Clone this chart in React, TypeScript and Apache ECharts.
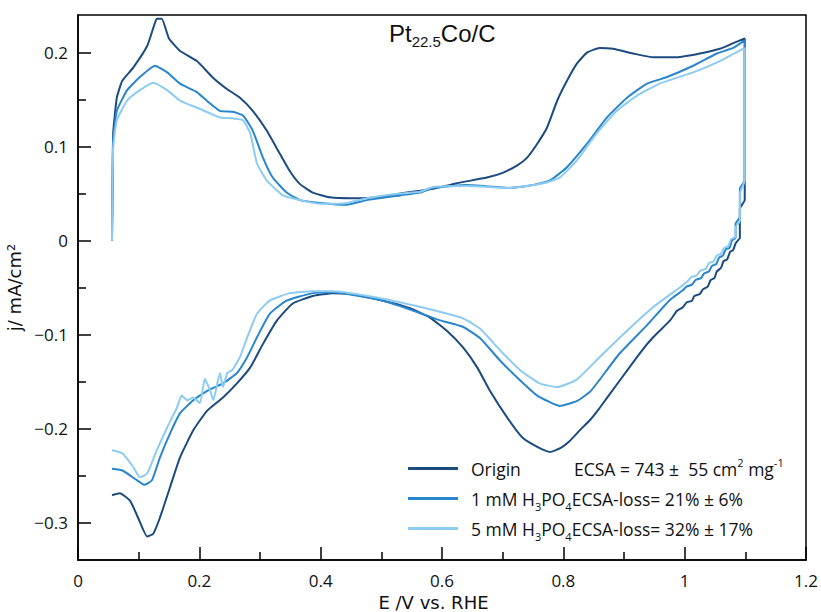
import React, { useEffect, useRef } from "react";
import * as echarts from "echarts";

// ---- data: [E (V vs RHE), j (mA/cm²)] ----
const originAnodic: number[][] = [
  [0.056, 0], [0.057, 0.06], [0.058, 0.114], [0.064, 0.152], [0.073, 0.170], [0.091, 0.184],
  [0.114, 0.207], [0.124, 0.226], [0.130, 0.236], [0.138, 0.236], [0.150, 0.215], [0.168, 0.202],
  [0.196, 0.191], [0.223, 0.173], [0.246, 0.161], [0.267, 0.152], [0.288, 0.138], [0.311, 0.117],
  [0.333, 0.092], [0.349, 0.074], [0.366, 0.060], [0.387, 0.051], [0.415, 0.046], [0.453, 0.045],
  [0.493, 0.046], [0.531, 0.050], [0.564, 0.053], [0.585, 0.055], [0.625, 0.061], [0.674, 0.067],
  [0.700, 0.072], [0.724, 0.080], [0.740, 0.088], [0.757, 0.103], [0.773, 0.120], [0.790, 0.149],
  [0.806, 0.170], [0.822, 0.188], [0.839, 0.200], [0.860, 0.205], [0.882, 0.204], [0.915, 0.199],
  [0.948, 0.195], [0.987, 0.195], [1.025, 0.199], [1.058, 0.204], [1.080, 0.210], [1.099, 0.215],
];
const originCathodic: number[][] = [
  [1.099, 0.043], [1.091, 0.034], [1.091, 0.003], [1.084, -0.003], [1.080, -0.010], [1.075, -0.012],
  [1.070, -0.020], [1.064, -0.022], [1.060, -0.029], [1.053, -0.033], [1.049, -0.040], [1.043, -0.042],
  [1.038, -0.049], [1.030, -0.052], [1.025, -0.057], [1.016, -0.059], [1.012, -0.064], [1.003, -0.066],
  [0.997, -0.071], [0.987, -0.075], [0.976, -0.085], [0.948, -0.103], [0.926, -0.120], [0.893, -0.149],
  [0.860, -0.178], [0.844, -0.191], [0.827, -0.202], [0.811, -0.213], [0.795, -0.221], [0.778, -0.225],
  [0.761, -0.221], [0.733, -0.210], [0.707, -0.188], [0.679, -0.160], [0.658, -0.135], [0.635, -0.114],
  [0.608, -0.096], [0.580, -0.082], [0.547, -0.072], [0.503, -0.064], [0.448, -0.057], [0.420, -0.056],
  [0.387, -0.059], [0.354, -0.067], [0.328, -0.085], [0.305, -0.110], [0.284, -0.135], [0.262, -0.152],
  [0.239, -0.167], [0.213, -0.181], [0.190, -0.202], [0.168, -0.231], [0.152, -0.262], [0.135, -0.295],
  [0.124, -0.312], [0.114, -0.315], [0.099, -0.295], [0.086, -0.277], [0.069, -0.269], [0.056, -0.271],
];

const mM1Anodic: number[][] = [
  [0.056, 0], [0.057, 0.06], [0.058, 0.106], [0.064, 0.138], [0.081, 0.160], [0.102, 0.174],
  [0.127, 0.186], [0.147, 0.179], [0.168, 0.167], [0.196, 0.158], [0.212, 0.149], [0.234, 0.138],
  [0.255, 0.137], [0.272, 0.133], [0.288, 0.117], [0.305, 0.088], [0.321, 0.067], [0.344, 0.051],
  [0.366, 0.043], [0.399, 0.040], [0.443, 0.038], [0.476, 0.043], [0.531, 0.048], [0.564, 0.051],
  [0.585, 0.056], [0.641, 0.059], [0.712, 0.056], [0.750, 0.059], [0.778, 0.064], [0.806, 0.078],
  [0.839, 0.103], [0.872, 0.131], [0.905, 0.152], [0.938, 0.167], [0.971, 0.174], [1.014, 0.186],
  [1.053, 0.199], [1.080, 0.205], [1.099, 0.213],
];
const mM1Cathodic: number[][] = [
  [1.099, 0.064], [1.091, 0.055], [1.091, 0.025], [1.084, 0.018], [1.084, 0.003], [1.078, 0.000],
  [1.074, -0.008], [1.068, -0.009], [1.063, -0.016], [1.057, -0.018], [1.052, -0.025], [1.045, -0.027],
  [1.040, -0.033], [1.032, -0.035], [1.027, -0.040], [1.018, -0.042], [1.012, -0.047], [1.003, -0.049],
  [0.997, -0.053], [0.976, -0.063], [0.938, -0.090], [0.893, -0.120], [0.860, -0.148], [0.844, -0.161],
  [0.822, -0.171], [0.794, -0.176], [0.757, -0.165], [0.729, -0.149], [0.696, -0.128], [0.663, -0.104],
  [0.635, -0.092], [0.597, -0.085], [0.559, -0.076], [0.503, -0.064], [0.420, -0.055], [0.387, -0.056],
  [0.344, -0.064], [0.316, -0.078], [0.295, -0.103], [0.279, -0.124], [0.262, -0.141], [0.239, -0.152],
  [0.213, -0.160], [0.190, -0.170], [0.168, -0.184], [0.152, -0.205], [0.135, -0.231], [0.122, -0.255],
  [0.110, -0.260], [0.097, -0.255], [0.074, -0.245], [0.056, -0.243],
];

const mM5Anodic: number[][] = [
  [0.056, 0], [0.057, 0.06], [0.058, 0.099], [0.064, 0.128], [0.081, 0.149], [0.102, 0.160],
  [0.124, 0.168], [0.147, 0.160], [0.168, 0.149], [0.201, 0.140], [0.234, 0.131], [0.255, 0.130],
  [0.272, 0.128], [0.284, 0.114], [0.295, 0.082], [0.311, 0.064], [0.338, 0.048], [0.366, 0.043],
  [0.399, 0.039], [0.443, 0.040], [0.476, 0.045], [0.531, 0.050], [0.564, 0.052], [0.585, 0.057],
  [0.641, 0.058], [0.712, 0.056], [0.767, 0.061], [0.794, 0.067], [0.822, 0.085], [0.855, 0.114],
  [0.888, 0.138], [0.921, 0.154], [0.959, 0.167], [1.014, 0.179], [1.058, 0.191], [1.099, 0.205],
];
const mM5Cathodic: number[][] = [
  [1.099, 0.064], [1.091, 0.050], [1.091, 0.021], [1.084, 0.014], [1.084, 0.004], [1.076, 0.001],
  [1.072, -0.006], [1.065, -0.008], [1.060, -0.014], [1.053, -0.016], [1.048, -0.022], [1.040, -0.024],
  [1.035, -0.030], [1.026, -0.032], [1.020, -0.037], [1.011, -0.039], [1.004, -0.044], [0.992, -0.050],
  [0.948, -0.071], [0.905, -0.096], [0.860, -0.124], [0.822, -0.148], [0.790, -0.156], [0.761, -0.152],
  [0.729, -0.138], [0.696, -0.117], [0.663, -0.094], [0.635, -0.083], [0.585, -0.074], [0.503, -0.062],
  [0.420, -0.054], [0.387, -0.054], [0.349, -0.056], [0.316, -0.064], [0.295, -0.078], [0.279, -0.103],
  [0.267, -0.124], [0.254, -0.138], [0.246, -0.141], [0.239, -0.156], [0.234, -0.141], [0.223, -0.170],
  [0.218, -0.160], [0.209, -0.147], [0.201, -0.173], [0.190, -0.167], [0.180, -0.170], [0.171, -0.165],
  [0.163, -0.178], [0.147, -0.199], [0.130, -0.223], [0.114, -0.248], [0.102, -0.252], [0.091, -0.241],
  [0.074, -0.227], [0.056, -0.223],
];

const seriesNames = ["Origin", "1 mM H3PO4", "5 mM H3PO4"];
const seriesColors = ["#1c4b80", "#2a86cc", "#8dcbf3"];
const legendExtra: Record<string, string> = {
  "Origin": "Origin",
  "1 mM H3PO4": "1 mM H{s|3}PO{s|4}ECSA-loss= 21% ± 6%",
  "5 mM H3PO4": "5 mM H{s|3}PO{s|4}ECSA-loss= 32% ± 17%",
};
const yMajorTicks = [-0.3, -0.2, -0.1, 0, 0.1, 0.2];
const yMinorTicks = [-0.25, -0.15, -0.05, 0.05, 0.15];

const FONT = "Open Sans";
const NAME_FONT = "DejaVu Sans";

export default function App() {
  const ref = useRef<HTMLDivElement>(null);
  useEffect(() => {
    if (!ref.current) return;
    const chart = echarts.init(ref.current, null, { renderer: "svg" });
    const loops = [
      [...originAnodic, ...originCathodic],
      [...mM1Anodic, ...mM1Cathodic],
      [...mM5Anodic, ...mM5Cathodic],
    ];
    const fmt = (v: number) => (v < 0 ? "\u2212" + String(Math.abs(v)) : String(v));
    chart.setOption({
      animation: false,
      backgroundColor: "#fff",
      title: {
        text: "Pt{s|22.5}Co/C",
        left: 389,
        top: 17,
        padding: 0,
        textStyle: {
          fontFamily: "Liberation Sans",
          fontSize: 24,
          fontWeight: "normal",
          color: "#111",
          lineHeight: 32,
          rich: {
            s: { fontFamily: "Liberation Sans", fontSize: 15, color: "#111", verticalAlign: "bottom", lineHeight: 14 },
          },
        },
      },
      grid: {
        left: 78, right: 15, top: 15, bottom: 52,
        outerBoundsMode: "none",
        containLabel: false,
        show: true, borderColor: "#000", borderWidth: 1.5, backgroundColor: "transparent",
      },
      legend: {
        orient: "vertical",
        left: 408,
        top: 455,
        padding: 0,
        itemWidth: 50,
        itemHeight: 3,
        itemGap: 3,
        icon: "rect",
        data: seriesNames,
        formatter: (name: string) => legendExtra[name],
        textStyle: {
          fontFamily: FONT,
          fontSize: 17.5,
          color: "#111",
          lineHeight: 27,
          padding: [0, 0, 0, 8],
          rich: {
            s: { fontFamily: FONT, fontSize: 11, color: "#111", lineHeight: 11, verticalAlign: "bottom" },
          },
        },
      },
      graphic: [
        {
          type: "text",
          left: 574,
          top: 457,
          style: {
            text: "ECSA = 743 ±  55 cm{p|2} mg{p|-1}",
            fontFamily: FONT,
            fontSize: 17.5,
            fill: "#111",
            lineHeight: 24,
            rich: {
              p: { fontFamily: FONT, fontSize: 11, fill: "#111", lineHeight: 11, verticalAlign: "top" },
            },
          },
        },
      ],
      xAxis: {
        type: "value",
        min: 0,
        max: 1.2,
        interval: 0.2,
        name: "E /V vs. RHE",
        nameLocation: "middle",
        nameGap: 33,
        nameTextStyle: { fontFamily: NAME_FONT, fontSize: 18, lineHeight: 18, color: "#111", padding: [0, 17, 0, 0] },
        axisLine: { show: true, onZero: false, lineStyle: { color: "#000", width: 1.5 } },
        axisTick: { show: true, inside: true, length: 13, lineStyle: { color: "#000", width: 1.5 } },
        minorTick: { show: true, splitNumber: 2, length: 8, lineStyle: { color: "#000", width: 1.5 } },
        axisLabel: { fontFamily: FONT, fontSize: 17, color: "#111", margin: 12, showMinLabel: true, showMaxLabel: true },
        splitLine: { show: false },
      },
      yAxis: [
        {
          type: "value",
          min: -0.34,
          max: 0.24,
          position: "left",
          name: "j/ mA/cm²",
          nameLocation: "middle",
          nameGap: 48,
          nameTextStyle: { fontFamily: NAME_FONT, fontSize: 18, color: "#111" },
          axisLine: { show: true, onZero: false, lineStyle: { color: "#000", width: 1.5 } },
          axisTick: { show: true, inside: true, length: 13, customValues: yMajorTicks, lineStyle: { color: "#000", width: 1.5 } },
          axisLabel: { fontFamily: FONT, fontSize: 17, color: "#111", margin: 10, customValues: yMajorTicks, formatter: fmt },
          splitLine: { show: false },
        },
        {
          type: "value",
          min: -0.34,
          max: 0.24,
          position: "left",
          offset: 0,
          axisLine: { show: false },
          axisTick: { show: true, inside: true, length: 8, customValues: yMinorTicks, lineStyle: { color: "#000", width: 1.5 } },
          axisLabel: { show: false },
          splitLine: { show: false },
        },
      ],
      series: seriesNames.map((n, i) => ({
        name: n,
        type: "line",
        data: loops[i],
        xAxisIndex: 0,
        yAxisIndex: 0,
        showSymbol: false,
        symbol: "none",
        smooth: 0.15,
        color: seriesColors[i],
        lineStyle: { width: 2, color: seriesColors[i] },
        z: 2 + i,
      })),
    });
    return () => chart.dispose();
  }, []);
  return <div ref={ref} style={{ width: 821, height: 612, position: "absolute", left: 0, top: 0 }} />;
}
